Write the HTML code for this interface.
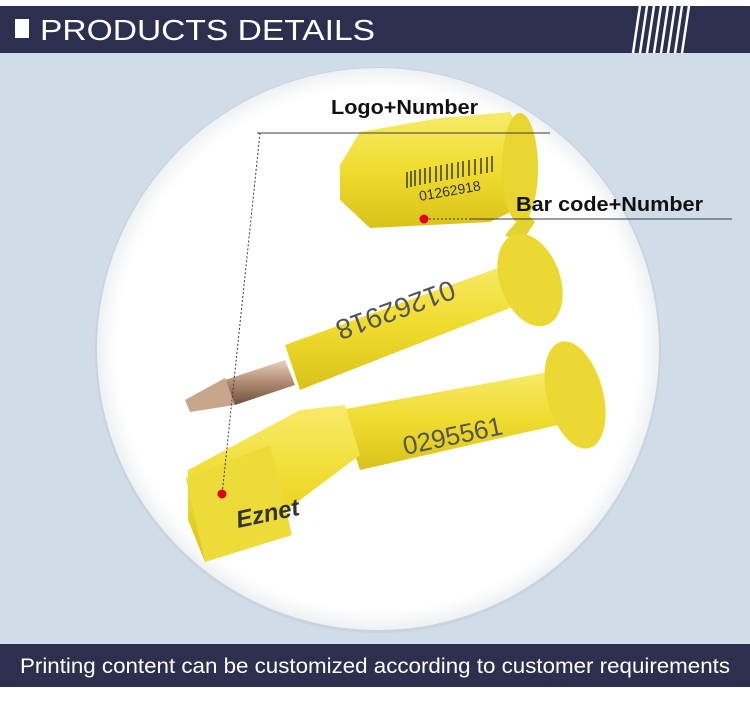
<!DOCTYPE html>
<html><head><style>
body{margin:0;width:750px;height:699px;overflow:hidden;background:#fff;font-family:"Liberation Sans",sans-serif}
</style></head><body>
<svg width="750" height="699" xmlns="http://www.w3.org/2000/svg">
<defs>
<radialGradient id="cg" cx="0.5" cy="0.5" r="0.5">
<stop offset="0.93" stop-color="#fff"/><stop offset="1" stop-color="#eef1f4"/>
</radialGradient>
<linearGradient id="yl" x1="0" y1="0" x2="0" y2="1"><stop offset="0" stop-color="#f7ea6a"/><stop offset="0.5" stop-color="#f0dc2e"/><stop offset="1" stop-color="#d9c21a"/></linearGradient>
<linearGradient id="mt" x1="0" y1="0" x2="0" y2="1"><stop offset="0" stop-color="#e8d2c0"/><stop offset="0.5" stop-color="#b08a70"/><stop offset="1" stop-color="#6d5040"/></linearGradient>
</defs>
<rect x="0" y="53" width="750" height="591" fill="#d0dce8"/>
<rect x="0" y="6" width="750" height="47" fill="#2d2f4f"/>
<rect x="15" y="19" width="14" height="19" fill="#fff"/>
<text x="40" y="40" font-size="29" fill="#fff" textLength="335" lengthAdjust="spacingAndGlyphs">PRODUCTS DETAILS</text>
<g stroke="#fff" stroke-width="2.5">
<line x1="640" y1="6" x2="633" y2="53"/><line x1="647" y1="6" x2="640" y2="53"/><line x1="654" y1="6" x2="647" y2="53"/><line x1="661" y1="6" x2="654" y2="53"/><line x1="668" y1="6" x2="661" y2="53"/><line x1="675" y1="6" x2="668" y2="53"/><line x1="682" y1="6" x2="675" y2="53"/><line x1="689" y1="6" x2="682" y2="53"/>
</g>
<circle cx="378" cy="350" r="283" fill="#c5cfd9" opacity="0.6"/>
<circle cx="378" cy="349" r="281" fill="url(#cg)"/>
<!-- top cap -->
<path d="M340 165 L360 132 L440 118 L510 112 L525 140 L525 205 L490 222 L370 228 L340 200 Z" fill="url(#yl)"/>
<ellipse cx="520" cy="168" rx="18" ry="55" fill="#e9d530"/>
<g stroke="#222" stroke-width="1.3">
<line x1="407" y1="172" x2="407" y2="188"/><line x1="411" y1="171" x2="411" y2="187"/><line x1="415" y1="170" x2="415" y2="186"/><line x1="420" y1="169" x2="420" y2="185"/><line x1="425" y1="168" x2="425" y2="184"/><line x1="430" y1="167" x2="430" y2="183"/><line x1="436" y1="166" x2="436" y2="182"/><line x1="441" y1="165" x2="441" y2="181"/><line x1="447" y1="164" x2="447" y2="180"/><line x1="452" y1="163" x2="452" y2="179"/><line x1="458" y1="162" x2="458" y2="178"/><line x1="463" y1="161" x2="463" y2="177"/><line x1="469" y1="160" x2="469" y2="176"/><line x1="475" y1="159" x2="475" y2="175"/><line x1="481" y1="158" x2="481" y2="174"/><line x1="487" y1="157" x2="487" y2="173"/><line x1="492" y1="156" x2="492" y2="172"/>
</g>
<text x="420" y="201" font-size="14" fill="#333" transform="rotate(-10 420 201)">01262918</text>
<path d="M505 235 L525 212 L535 222 L520 245 Z" fill="#e6d22c"/>
<!-- middle pin -->
<path d="M285 345 L520 260 L530 300 L300 390 Z" fill="url(#yl)"/>
<ellipse cx="530" cy="280" rx="30" ry="48" fill="#ecd832" transform="rotate(-20 530 280)"/>
<path d="M225 380 L285 360 L295 385 L235 405 Z" fill="url(#mt)"/>
<path d="M185 400 L225 378 L235 405 L190 412 Z" fill="#c8a68c"/>
<text x="335" y="360" font-size="28" fill="#555" transform="rotate(160 400 330)">01262918</text>
<!-- bottom pin -->
<path d="M340 410 L560 370 L580 420 L360 470 Z" fill="url(#yl)"/>
<ellipse cx="575" cy="395" rx="28" ry="55" fill="#ecd832" transform="rotate(-15 575 395)"/>
<path d="M188 470 L300 410 L345 405 L360 455 L300 500 L205 562 L188 520 Z" fill="url(#yl)"/>
<path d="M186 478 L270 445 L292 535 L205 562 Z" fill="#eddb3a"/>
<text x="405" y="455" font-size="26" fill="#555" transform="rotate(-12 405 455)">0295561</text>
<text x="238" y="528" font-size="24" font-weight="bold" font-style="italic" fill="#333" transform="rotate(-12 238 528)">Eznet</text>
<!-- labels -->
<g stroke="#3a3a4a" stroke-width="1">
<line x1="257" y1="133" x2="550" y2="133"/>
<line x1="470" y1="219" x2="732" y2="219"/>
<line x1="260" y1="133" x2="222" y2="495" stroke-dasharray="2,2"/>
<line x1="425" y1="219" x2="512" y2="219" stroke-dasharray="2,2"/>
</g>
<circle cx="424" cy="219" r="4.5" fill="#e0001a"/>
<circle cx="222" cy="494" r="4.5" fill="#e0001a"/>
<text x="331" y="114" font-size="20" font-weight="bold" fill="#111" textLength="147" lengthAdjust="spacingAndGlyphs">Logo+Number</text>
<text x="516" y="211" font-size="20" font-weight="bold" fill="#111" textLength="187" lengthAdjust="spacingAndGlyphs">Bar code+Number</text>
<rect x="0" y="644" width="750" height="43" fill="#2d2f4f"/>
<text x="20" y="673" font-size="21" fill="#fff" textLength="710" lengthAdjust="spacingAndGlyphs">Printing content can be customized according to customer requirements</text>
</svg>
</body></html>
